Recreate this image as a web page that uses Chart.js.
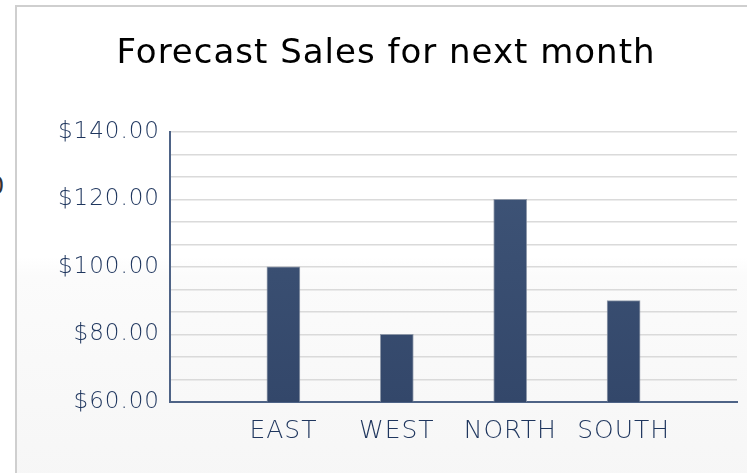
<!DOCTYPE html>
<html>
<head>
<meta charset="utf-8">
<script src="https://cdn.jsdelivr.net/npm/chart.js@4.4.1/dist/chart.umd.min.js"></script>
<style>
  html, body { margin: 0; padding: 0; background: #fff; overflow: hidden; }
  #stage { position: relative; width: 747px; height: 473px; overflow: hidden; }
  #panel {
    position: absolute; left: 15px; top: 5px; width: 760px; height: 480px;
    border-left: 2px solid #cfcfcf; border-top: 2px solid #cfcfcf;
    background: linear-gradient(#fff 0%, #fff 52%, #fbfbfb 56%, #f6f6f6 100%);
  }
  #cut { position: absolute; left: -11px; top: 172px; font: 24px 'DejaVu Sans'; color: #333; }
  #wrap { position: absolute; left: 16px; top: 6px; width: 731px; height: 467px; }
</style>
</head>
<body>
<div id="stage">
  <div id="panel"></div>
  <div id="cut">0</div>
  <div id="wrap"><canvas id="salesChart"></canvas></div>
</div>
<script>
const categories = ['EAST', 'WEST', 'NORTH', 'SOUTH'];
const salesValues = [100, 80, 120, 90];
const yTickValues = [60, 80, 100, 120, 140];
const minorPerStep = 3;

document.addEventListener('DOMContentLoaded', function() {
  if (typeof Chart === 'undefined') {
    console.error('Chart.js is not loaded');
    return;
  }

  // empty slots either side so bars sit at 1..4 of a 0..5 axis
  const labels = [''].concat(categories, ['']);
  const values = [null].concat(salesValues, [null]);

  const axisBlue = '#4e6386';
  const labelBlue = '#1f365e';

  // the original text is spaced out a bit wider than DejaVu
  const spacing = {
    id: 'spacing',
    beforeDraw: function(chart) { chart.ctx.letterSpacing = '1px'; }
  };

  const ctx = document.getElementById('salesChart').getContext('2d');
  new Chart(ctx, {
    type: 'bar',
    data: {
      labels: labels,
      datasets: [{
        label: 'Forecast Sales',
        data: values,
        backgroundColor: function(c) {
          const area = c.chart.chartArea;
          if (!area) return '#3c5274';
          const g = c.chart.ctx.createLinearGradient(0, area.top, 0, area.bottom);
          g.addColorStop(0, '#405679');
          g.addColorStop(1, '#33476a');
          return g;
        },
        borderColor: 'rgba(120,132,152,0.8)',
        borderWidth: 1,
        borderSkipped: 'bottom',
        barThickness: 33
      }]
    },
    plugins: [spacing],
    options: {
      responsive: true,
      maintainAspectRatio: false,
      animation: false,
      layout: { padding: { left: 19, right: 10 } },
      plugins: {
        legend: { display: false },
        tooltip: { enabled: false },
        title: {
          display: true,
          text: 'Forecast Sales for next month',
          color: '#000',
          font: { family: 'DejaVu Sans', size: 34, weight: 'normal' },
          padding: { top: 28, bottom: 57 }
        }
      },
      scales: {
        x: {
          offset: false,
          grid: { display: false },
          border: { display: true, color: axisBlue, width: 2 },
          ticks: {
            color: labelBlue,
            font: { family: 'DejaVu Sans', size: 25, weight: '200' },
            padding: 6, autoSkip: false, maxRotation: 0
          },
          afterFit: function(scale) { scale.height = 71; }
        },
        y: {
          min: yTickValues[0],
          max: yTickValues[yTickValues.length - 1],
          afterBuildTicks: function(scale) {
            const ticks = [];
            for (let i = 0; i < yTickValues.length - 1; i++) {
              const step = (yTickValues[i + 1] - yTickValues[i]) / minorPerStep;
              for (let j = 0; j < minorPerStep; j++) {
                ticks.push({ value: yTickValues[i] + j * step, major: j === 0 });
              }
            }
            ticks.push({ value: yTickValues[yTickValues.length - 1], major: true });
            scale.ticks = ticks;
          },
          grid: { color: '#dadada', lineWidth: 1.5, drawTicks: false },
          border: { display: true, color: axisBlue, width: 2 },
          ticks: {
            color: labelBlue,
            font: { family: 'DejaVu Sans', size: 23, weight: '200' },
            padding: 10,
            autoSkip: false,
            callback: function(value) {
              const v = Math.round(value * 1000) / 1000;
              return yTickValues.includes(v) ? '$' + v.toFixed(2) : '';
            }
          },
          afterFit: function(scale) { scale.width = 135; }
        }
      }
    }
  });
});
</script>
</body>
</html>
